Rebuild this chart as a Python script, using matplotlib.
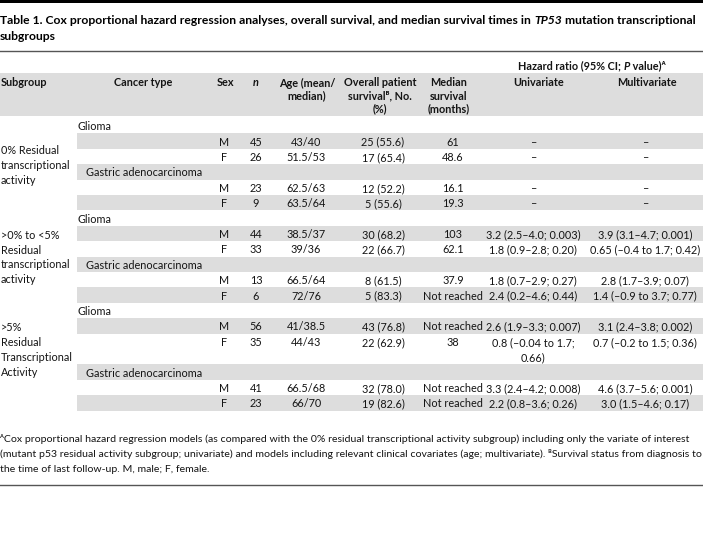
import matplotlib
matplotlib.use("Agg")
import matplotlib.pyplot as plt
from matplotlib.patches import Rectangle

plt.rcParams['font.family'] = ['Lato', 'DejaVu Sans']

# ---- table content ----
subgroups = [
    ["0% Residual", "transcriptional", "activity"],
    [">0% to <5%", "Residual", "transcriptional", "activity"],
    [">5%", "Residual", "Transcriptional", "Activity"],
]
cancer_types = ["Glioma", "Gastric adenocarcinoma"]
sexes = ["M", "F"]
n_patients = ["45", "26", "23", "9", "44", "33", "13", "6", "56", "35", "41", "23"]
age = ["43/40", "51.5/53", "62.5/63", "63.5/64", "38.5/37", "39/36",
       "66.5/64", "72/76", "41/38.5", "44/43", "66.5/68", "66/70"]
overall_survival = ["25 (55.6)", "17 (65.4)", "12 (52.2)", "5 (55.6)", "30 (68.2)", "22 (66.7)",
                    "8 (61.5)", "5 (83.3)", "43 (76.8)", "22 (62.9)", "32 (78.0)", "19 (82.6)"]
median_survival = ["61", "48.6", "16.1", "19.3", "103", "62.1",
                   "37.9", "Not reached", "Not reached", "38", "Not reached", "Not reached"]
univariate = ["–", "–", "–", "–", "3.2 (2.5–4.0; 0.003)", "1.8 (0.9–2.8; 0.20)",
              "1.8 (0.7–2.9; 0.27)", "2.4 (0.2–4.6; 0.44)", "2.6 (1.9–3.3; 0.007)",
              "0.8 (–0.04 to 1.7;\n0.66)", "3.3 (2.4–4.2; 0.008)", "2.2 (0.8–3.6; 0.26)"]
multivariate = ["–", "–", "–", "–", "3.9 (3.1–4.7; 0.001)", "0.65 (–0.4 to 1.7; 0.42)",
                "2.8 (1.7–3.9; 0.07)", "1.4 (–0.9 to 3.7; 0.77)", "3.1 (2.4–3.8; 0.002)",
                "0.7 (–0.2 to 1.5; 0.36)", "4.6 (3.7–5.6; 0.001)", "3.0 (1.5–4.6; 0.17)"]

footnotes = [
    "\u1d2cCox proportional hazard regression models (as compared with the 0% residual transcriptional activity subgroup) including only the variate of interest",
    "(mutant p53 residual activity subgroup; univariate) and models including relevant clinical covariates (age; multivariate). \u1d2eSurvival status from diagnosis to",
    "the time of last follow-up. M, male; F, female.",
]

# ---- layout (pixel coordinates, y grows downward) ----
W, H = 703, 540
GRAY = "#dddddd"
TXT = "#141414"
FS = 7.8
ROW_H = 15.4
BODY_TOP = 118.0

col_x = {"sex": 224, "n": 256, "age": 306, "os": 383, "med": 453, "uni": 533, "multi": 645}

fig = plt.figure(figsize=(W / 100, H / 100), dpi=100)
ax = fig.add_axes([0, 0, 1, 1])
ax.set_xlim(0, W)
ax.set_ylim(H, 0)
ax.axis("off")
renderer = fig.canvas.get_renderer()


def runs(x, y, parts, ha="left", **kw):
    """Draw consecutive text pieces (text, style) as one line."""
    objs = []
    for txt, style in parts:
        opts = dict(fontsize=FS, color=TXT, va="center_baseline")
        opts.update(kw)
        opts.update(style)
        objs.append(ax.text(0, y, txt, **opts))
    widths = [o.get_window_extent(renderer).width for o in objs]
    total = sum(widths)
    start = x if ha == "left" else (x - total / 2 if ha == "center" else x - total)
    for o, w in zip(objs, widths):
        o.set_x(start)
        start += w


def cell(x, y, txt, ha="center", **kw):
    opts = dict(fontsize=FS, color=TXT, va="center_baseline", ha=ha)
    opts.update(kw)
    for i, line in enumerate(txt.split("\n")):
        ax.text(x, y + i * ROW_H, line, **opts)


# top rule, title, rule under title
ax.add_patch(Rectangle((0, 0), W, 3, color="black", lw=0))
bold = {"fontweight": "bold", "color": "black"}
runs(0, 19, [("Table 1. Cox proportional hazard regression analyses, overall survival, and median survival times in ", bold),
             ("TP53", dict(bold, fontstyle="italic")),
             (" mutation transcriptional", bold)], fontsize=8.7)
runs(0, 36, [("subgroups", bold)], fontsize=8.7)
ax.plot([0, W], [50.5, 50.5], color="#555555", lw=1)

# header
hb = {"fontweight": "bold"}
runs(592, 65, [("Hazard ratio (95% CI; ", hb), ("P", dict(hb, fontstyle="italic")), (" value)\u1d2c", hb)], ha="center")
ax.add_patch(Rectangle((0, 73), W, 43, color=GRAY, lw=0))
HY = [82, 95, 108]
cell(1, HY[0], "Subgroup", ha="left", fontweight="bold")
cell(143, HY[0], "Cancer type", fontweight="bold")
cell(225, HY[0], "Sex", fontweight="bold")
cell(256, HY[0], "n", fontweight="bold", fontstyle="italic")
for i, t in enumerate(["Age (mean/", "median)"]):
    cell(307, HY[i], t, fontweight="bold")
runs(380, HY[0], [("Overall patient", hb)], ha="center")
runs(380, HY[1], [("survival\u1d2e, No.", hb)], ha="center")
runs(380, HY[2], [("(%)", hb)], ha="center")
for i, t in enumerate(["Median", "survival", "(months)"]):
    cell(449, HY[i], t, fontweight="bold")
cell(539, HY[0], "Univariate", fontweight="bold")
cell(647, HY[0], "Multivariate", fontweight="bold")

# body rows
row = 0
y = BODY_TOP
k = 0
for g, label in enumerate(subgroups):
    g_top = y
    for c, ctype in enumerate(cancer_types):
        # cancer type row
        if row % 2 == 1:
            ax.add_patch(Rectangle((77, y), W - 77, ROW_H, color=GRAY, lw=0))
        cell(78 if c == 0 else 86, y + ROW_H / 2, ctype, ha="left")
        y += ROW_H
        row += 1
        for s in sexes:
            lines = max(univariate[k].count("\n"), multivariate[k].count("\n")) + 1
            h = ROW_H * lines
            if row % 2 == 1:
                ax.add_patch(Rectangle((77, y), W - 77, h, color=GRAY, lw=0))
            yc = y + ROW_H / 2
            cell(col_x["sex"], yc, s)
            cell(col_x["n"], yc, n_patients[k])
            cell(col_x["age"], yc, age[k])
            cell(col_x["os"], yc, overall_survival[k])
            cell(col_x["med"], yc, median_survival[k])
            cell(col_x["uni"], yc, univariate[k])
            cell(col_x["multi"], yc, multivariate[k])
            y += h
            row += 1
            k += 1
    # subgroup label centred on its block
    g_mid = (g_top + y) / 2 if g < 2 else (g_top + y - ROW_H) / 2
    n_lines = len(label)
    for i, t in enumerate(label):
        cell(1, g_mid + (i - (n_lines - 1) / 2) * 14.8, t, ha="left")

# footnotes and bottom rule
for i, t in enumerate(footnotes):
    cell(0, 438 + i * 15, t, ha="left", fontsize=7.55)
ax.plot([0, W], [484.5, 484.5], color="#555555", lw=1)

fig.savefig("out.png", dpi=100, facecolor="white")
